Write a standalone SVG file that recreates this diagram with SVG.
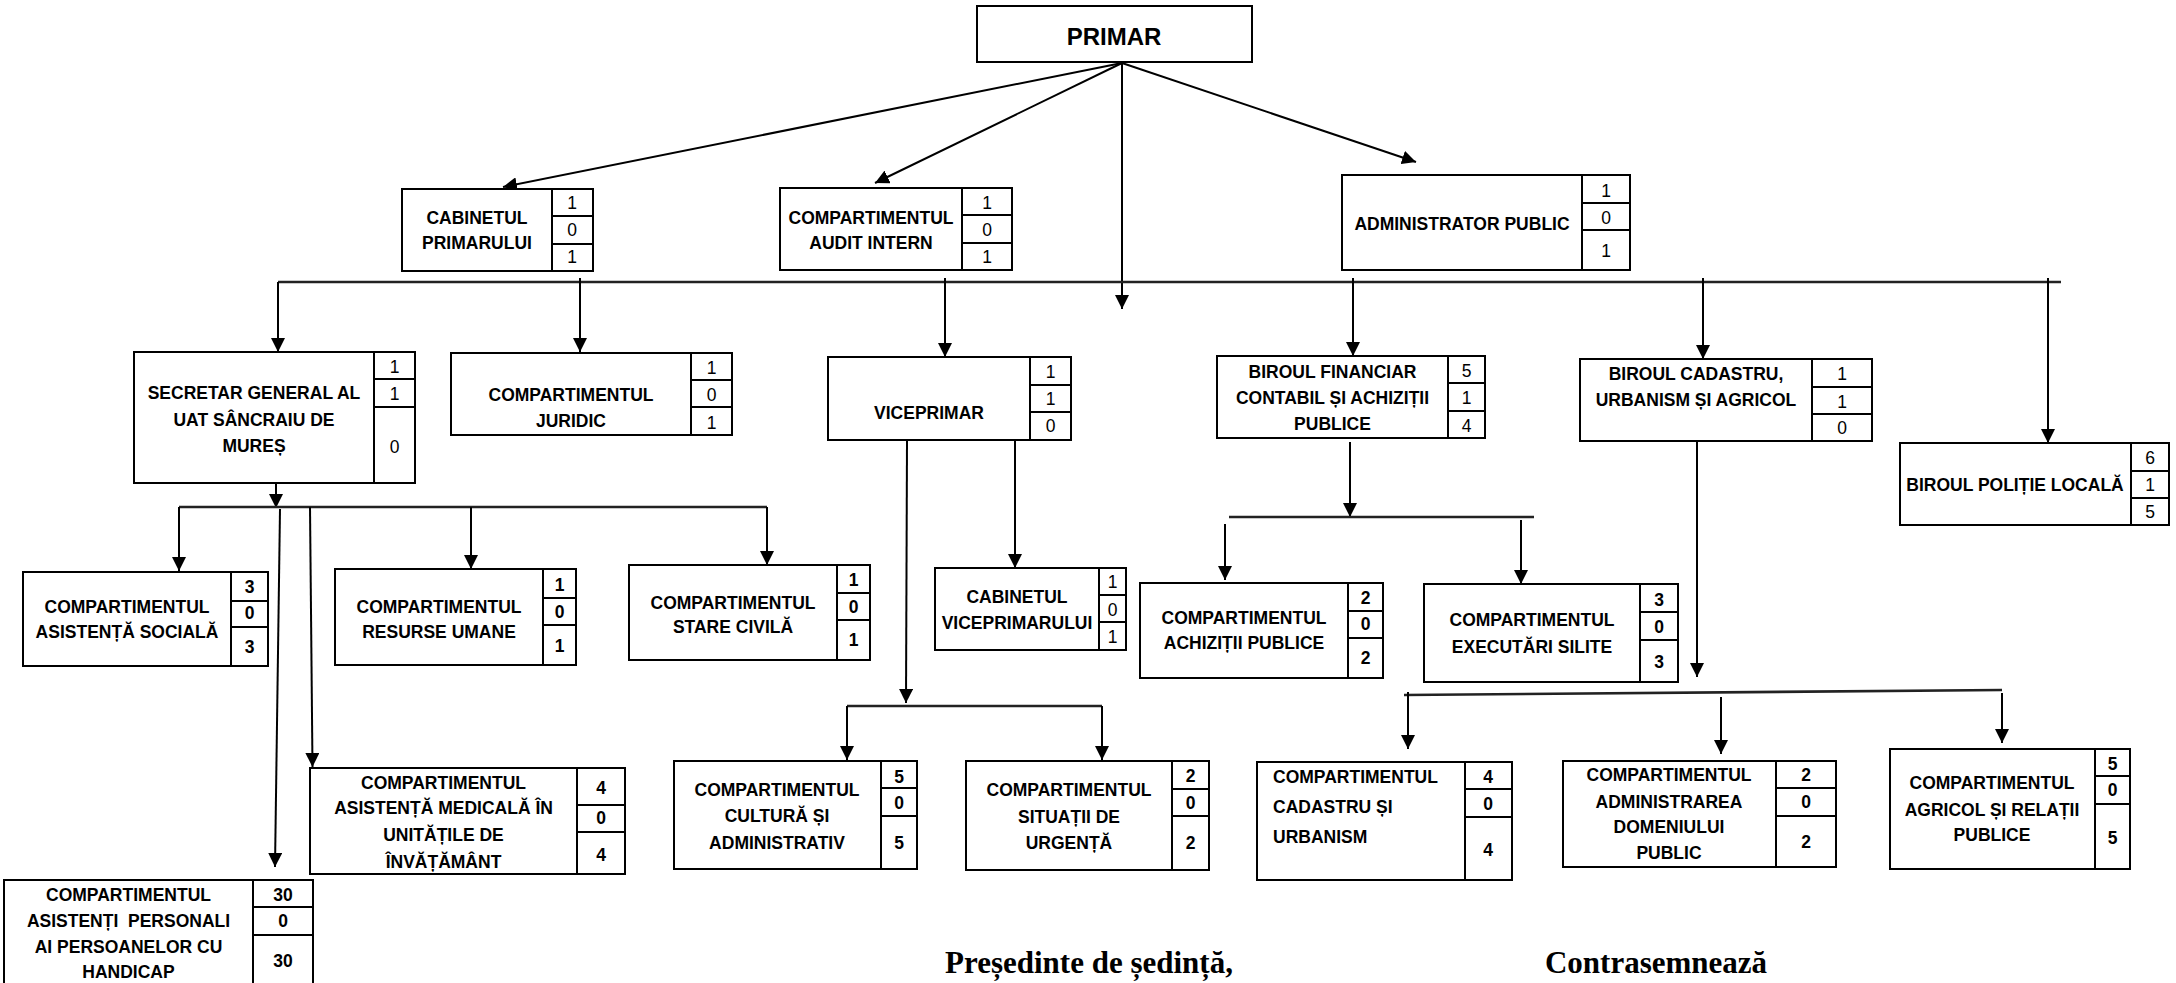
<svg xmlns="http://www.w3.org/2000/svg" width="2176" height="983" viewBox="0 0 2176 983">
<defs>
<marker id="ah" viewBox="0 0 14 14" refX="14" refY="7" markerWidth="14" markerHeight="14" markerUnits="userSpaceOnUse" orient="auto">
<path d="M0,0 L14,7 L0,14 Z" fill="#000"/>
</marker>
<style>
.box{fill:#fff;stroke:#000;stroke-width:2}
.ln{stroke:#000;stroke-width:2;fill:none}
.lbl{font-family:"Liberation Sans",Arial,sans-serif;font-weight:bold;font-size:17.5px;text-anchor:middle;fill:#000}
.lbll{font-family:"Liberation Sans",Arial,sans-serif;font-weight:bold;font-size:17.5px;text-anchor:start;fill:#000}
.num{font-family:"Liberation Sans",Arial,sans-serif;font-size:17.5px;text-anchor:middle;fill:#000}
.numb{font-family:"Liberation Sans",Arial,sans-serif;font-size:17.5px;font-weight:bold;text-anchor:middle;fill:#000}
.title{font-family:"Liberation Sans",Arial,sans-serif;font-weight:bold;font-size:24px;text-anchor:middle;fill:#000}
.sig{font-family:"Liberation Serif","Times New Roman",serif;font-weight:bold;font-size:31px;text-anchor:middle;fill:#000}
.arr{stroke:#000;stroke-width:2;fill:none;marker-end:url(#ah)}
.bus{stroke:#222;stroke-width:2.6;fill:none}
</style>
</defs>

<g id="connectors">
<line class="arr" x1="1122" y1="63" x2="503" y2="187"/>
<line class="arr" x1="1122" y1="63" x2="875" y2="183"/>
<line class="arr" x1="1122" y1="63" x2="1416" y2="162"/>
<line class="arr" x1="1122" y1="63" x2="1122" y2="309"/>
<line class="bus" x1="278" y1="282" x2="2061" y2="282"/>
<line class="arr" x1="278" y1="282" x2="278" y2="352"/>
<line class="arr" x1="580" y1="278" x2="580" y2="352"/>
<line class="arr" x1="945" y1="278" x2="945" y2="357"/>
<line class="arr" x1="1353" y1="278" x2="1353" y2="356"/>
<line class="arr" x1="1703" y1="278" x2="1703" y2="359"/>
<line class="arr" x1="2048" y1="278" x2="2048" y2="443"/>
<!-- secretar -->
<line class="arr" x1="276" y1="476" x2="276" y2="508"/>
<polyline class="bus" points="179,507 767,507"/>
<line class="arr" x1="179" y1="507" x2="179" y2="571"/>
<line class="arr" x1="280" y1="509" x2="275" y2="867"/>
<line class="arr" x1="310" y1="507" x2="312.5" y2="767"/>
<line class="arr" x1="471" y1="507" x2="471" y2="569"/>
<line class="arr" x1="767" y1="507" x2="767" y2="565"/>
<!-- viceprimar -->
<line class="arr" x1="907" y1="441" x2="906" y2="703"/>
<line class="bus" x1="847" y1="706" x2="1102" y2="706"/>
<line class="arr" x1="847" y1="706" x2="847" y2="760"/>
<line class="arr" x1="1102" y1="706" x2="1102" y2="760"/>
<line class="arr" x1="1015" y1="441" x2="1015" y2="568"/>
<!-- financiar -->
<line class="arr" x1="1350" y1="442" x2="1350" y2="517"/>
<line class="bus" x1="1229" y1="517" x2="1534" y2="517"/>
<line class="arr" x1="1225" y1="524" x2="1225" y2="580"/>
<line class="arr" x1="1521" y1="520" x2="1521" y2="584"/>
<!-- birou cadastru -->
<line class="arr" x1="1697" y1="423" x2="1697" y2="677"/>
<line class="bus" x1="1404" y1="695" x2="2002" y2="690"/>
<line class="arr" x1="1408" y1="692" x2="1408" y2="749"/>
<line class="arr" x1="1721" y1="697" x2="1721" y2="754"/>
<line class="arr" x1="2002" y1="693" x2="2002" y2="743"/>
</g>

<g id="primar">
<rect class="box" x="977" y="6" width="275" height="56"/>
<text class="title" x="1114" y="45">PRIMAR</text>
</g>

<g id="cabinetul-primarului">
<rect class="box" x="402" y="189" width="191" height="82"/>
<line class="ln" x1="552" y1="189" x2="552" y2="271"/>
<line class="ln" x1="552" y1="216" x2="593" y2="216"/>
<line class="ln" x1="552" y1="244" x2="593" y2="244"/>
<text class="lbl" x="477" y="224">CABINETUL</text>
<text class="lbl" x="477" y="249">PRIMARULUI</text>
<text class="num" x="572" y="209">1</text>
<text class="num" x="572" y="236">0</text>
<text class="num" x="572" y="263">1</text>
</g>

<g id="audit-intern">
<rect class="box" x="780" y="188" width="232" height="82"/>
<line class="ln" x1="962" y1="188" x2="962" y2="270"/>
<line class="ln" x1="962" y1="215" x2="1012" y2="215"/>
<line class="ln" x1="962" y1="243" x2="1012" y2="243"/>
<text class="lbl" x="871" y="224">COMPARTIMENTUL</text>
<text class="lbl" x="871" y="249">AUDIT INTERN</text>
<text class="num" x="987" y="209">1</text>
<text class="num" x="987" y="236">0</text>
<text class="num" x="987" y="263">1</text>
</g>

<g id="administrator-public">
<rect class="box" x="1342" y="175" width="288" height="95"/>
<line class="ln" x1="1582" y1="175" x2="1582" y2="270"/>
<line class="ln" x1="1582" y1="203" x2="1630" y2="203"/>
<line class="ln" x1="1582" y1="230" x2="1630" y2="230"/>
<text class="lbl" x="1462" y="230">ADMINISTRATOR PUBLIC</text>
<text class="num" x="1606" y="197">1</text>
<text class="num" x="1606" y="224">0</text>
<text class="num" x="1606" y="257">1</text>
</g>

<g id="secretar-general">
<rect class="box" x="134" y="352" width="281" height="131"/>
<line class="ln" x1="374" y1="352" x2="374" y2="483"/>
<line class="ln" x1="374" y1="379" x2="415" y2="379"/>
<line class="ln" x1="374" y1="407" x2="415" y2="407"/>
<text class="lbl" x="254" y="399">SECRETAR GENERAL AL</text>
<text class="lbl" x="254" y="426">UAT SÂNCRAIU DE</text>
<text class="lbl" x="254" y="452">MUREȘ</text>
<text class="num" x="394.5" y="373">1</text>
<text class="num" x="394.5" y="400">1</text>
<text class="num" x="394.5" y="453">0</text>
</g>

<g id="juridic">
<rect class="box" x="451" y="353" width="281" height="82"/>
<line class="ln" x1="691" y1="353" x2="691" y2="435"/>
<line class="ln" x1="691" y1="380" x2="732" y2="380"/>
<line class="ln" x1="691" y1="407" x2="732" y2="407"/>
<text class="lbl" x="571" y="401">COMPARTIMENTUL</text>
<text class="lbl" x="571" y="427">JURIDIC</text>
<text class="num" x="711.5" y="374">1</text>
<text class="num" x="711.5" y="401">0</text>
<text class="num" x="711.5" y="429">1</text>
</g>

<g id="viceprimar">
<rect class="box" x="828" y="357" width="243" height="83"/>
<line class="ln" x1="1030" y1="357" x2="1030" y2="440"/>
<line class="ln" x1="1030" y1="385" x2="1071" y2="385"/>
<line class="ln" x1="1030" y1="412" x2="1071" y2="412"/>
<text class="lbl" x="929" y="419">VICEPRIMAR</text>
<text class="num" x="1050.5" y="378">1</text>
<text class="num" x="1050.5" y="405">1</text>
<text class="num" x="1050.5" y="432">0</text>
</g>

<g id="biroul-financiar">
<rect class="box" x="1217" y="356" width="268" height="82"/>
<line class="ln" x1="1448" y1="356" x2="1448" y2="438"/>
<line class="ln" x1="1448" y1="383" x2="1485" y2="383"/>
<line class="ln" x1="1448" y1="411" x2="1485" y2="411"/>
<text class="lbl" x="1332.5" y="378">BIROUL FINANCIAR</text>
<text class="lbl" x="1332.5" y="404">CONTABIL ȘI ACHIZIȚII</text>
<text class="lbl" x="1332.5" y="430">PUBLICE</text>
<text class="num" x="1466.5" y="377">5</text>
<text class="num" x="1466.5" y="404">1</text>
<text class="num" x="1466.5" y="432">4</text>
</g>

<g id="biroul-cadastru">
<rect class="box" x="1580" y="359" width="292" height="82"/>
<line class="ln" x1="1812" y1="359" x2="1812" y2="441"/>
<line class="ln" x1="1812" y1="387" x2="1872" y2="387"/>
<line class="ln" x1="1812" y1="414" x2="1872" y2="414"/>
<text class="lbl" x="1696" y="380">BIROUL CADASTRU,</text>
<text class="lbl" x="1696" y="406">URBANISM ȘI AGRICOL</text>
<text class="num" x="1842" y="380">1</text>
<text class="num" x="1842" y="408">1</text>
<text class="num" x="1842" y="434">0</text>
</g>

<g id="biroul-politie-locala">
<rect class="box" x="1900" y="443" width="269" height="82"/>
<line class="ln" x1="2131" y1="443" x2="2131" y2="525"/>
<line class="ln" x1="2131" y1="471" x2="2169" y2="471"/>
<line class="ln" x1="2131" y1="498" x2="2169" y2="498"/>
<text class="lbl" x="2015" y="491">BIROUL POLIȚIE LOCALĂ</text>
<text class="num" x="2150" y="464">6</text>
<text class="num" x="2150" y="491">1</text>
<text class="num" x="2150" y="518">5</text>
</g>

<g id="asistenta-sociala">
<rect class="box" x="23" y="572" width="245" height="94"/>
<line class="ln" x1="231" y1="572" x2="231" y2="666"/>
<line class="ln" x1="231" y1="601" x2="268" y2="601"/>
<line class="ln" x1="231" y1="627" x2="268" y2="627"/>
<text class="lbl" x="127" y="613">COMPARTIMENTUL</text>
<text class="lbl" x="127" y="638">ASISTENȚĂ SOCIALĂ</text>
<text class="numb" x="249.5" y="593">3</text>
<text class="numb" x="249.5" y="619">0</text>
<text class="numb" x="249.5" y="653">3</text>
</g>

<g id="resurse-umane">
<rect class="box" x="335" y="569" width="241" height="96"/>
<line class="ln" x1="543" y1="569" x2="543" y2="665"/>
<line class="ln" x1="543" y1="598" x2="576" y2="598"/>
<line class="ln" x1="543" y1="625" x2="576" y2="625"/>
<text class="lbl" x="439" y="613">COMPARTIMENTUL</text>
<text class="lbl" x="439" y="638">RESURSE UMANE</text>
<text class="numb" x="559.5" y="591">1</text>
<text class="numb" x="559.5" y="618">0</text>
<text class="numb" x="559.5" y="652">1</text>
</g>

<g id="stare-civila">
<rect class="box" x="629" y="565" width="241" height="95"/>
<line class="ln" x1="837" y1="565" x2="837" y2="660"/>
<line class="ln" x1="837" y1="593" x2="870" y2="593"/>
<line class="ln" x1="837" y1="620" x2="870" y2="620"/>
<text class="lbl" x="733" y="609">COMPARTIMENTUL</text>
<text class="lbl" x="733" y="633">STARE CIVILĂ</text>
<text class="numb" x="853.5" y="586">1</text>
<text class="numb" x="853.5" y="613">0</text>
<text class="numb" x="853.5" y="646">1</text>
</g>

<g id="cabinetul-viceprimarului">
<rect class="box" x="935" y="568" width="191" height="82"/>
<line class="ln" x1="1099" y1="568" x2="1099" y2="650"/>
<line class="ln" x1="1099" y1="595" x2="1126" y2="595"/>
<line class="ln" x1="1099" y1="622" x2="1126" y2="622"/>
<text class="lbl" x="1017" y="603">CABINETUL</text>
<text class="lbl" x="1017" y="629">VICEPRIMARULUI</text>
<text class="num" x="1112.5" y="588">1</text>
<text class="num" x="1112.5" y="616">0</text>
<text class="num" x="1112.5" y="643">1</text>
</g>

<g id="achizitii-publice">
<rect class="box" x="1140" y="583" width="243" height="95"/>
<line class="ln" x1="1348" y1="583" x2="1348" y2="678"/>
<line class="ln" x1="1348" y1="611" x2="1383" y2="611"/>
<line class="ln" x1="1348" y1="638" x2="1383" y2="638"/>
<text class="lbl" x="1244" y="624">COMPARTIMENTUL</text>
<text class="lbl" x="1244" y="649">ACHIZIȚII PUBLICE</text>
<text class="numb" x="1365.5" y="604">2</text>
<text class="numb" x="1365.5" y="630">0</text>
<text class="numb" x="1365.5" y="664">2</text>
</g>

<g id="executari-silite">
<rect class="box" x="1424" y="584" width="254" height="98"/>
<line class="ln" x1="1640" y1="584" x2="1640" y2="682"/>
<line class="ln" x1="1640" y1="612" x2="1678" y2="612"/>
<line class="ln" x1="1640" y1="640" x2="1678" y2="640"/>
<text class="lbl" x="1532" y="626">COMPARTIMENTUL</text>
<text class="lbl" x="1532" y="653">EXECUTĂRI SILITE</text>
<text class="numb" x="1659" y="606">3</text>
<text class="numb" x="1659" y="633">0</text>
<text class="numb" x="1659" y="668">3</text>
</g>

<g id="asistenta-medicala">
<rect class="box" x="310" y="768" width="315" height="106"/>
<line class="ln" x1="577" y1="768" x2="577" y2="874"/>
<line class="ln" x1="577" y1="805" x2="625" y2="805"/>
<line class="ln" x1="577" y1="832" x2="625" y2="832"/>
<text class="lbl" x="443.5" y="789">COMPARTIMENTUL</text>
<text class="lbl" x="443.5" y="814">ASISTENȚĂ MEDICALĂ ÎN</text>
<text class="lbl" x="443.5" y="841">UNITĂȚILE DE</text>
<text class="lbl" x="443.5" y="868">ÎNVĂȚĂMÂNT</text>
<text class="numb" x="601" y="794">4</text>
<text class="numb" x="601" y="824">0</text>
<text class="numb" x="601" y="861">4</text>
</g>

<g id="asistenti-personali">
<rect class="box" x="4" y="880" width="309" height="115"/>
<line class="ln" x1="253" y1="880" x2="253" y2="995"/>
<line class="ln" x1="253" y1="907" x2="313" y2="907"/>
<line class="ln" x1="253" y1="935" x2="313" y2="935"/>
<text class="lbl" x="128.5" y="901">COMPARTIMENTUL</text>
<text class="lbl" x="128.5" y="927" xml:space="preserve">ASISTENȚI  PERSONALI</text>
<text class="lbl" x="128.5" y="953">AI PERSOANELOR CU</text>
<text class="lbl" x="128.5" y="978">HANDICAP</text>
<text class="numb" x="283" y="901">30</text>
<text class="numb" x="283" y="927">0</text>
<text class="numb" x="283" y="967">30</text>
</g>

<g id="cultura-administrativ">
<rect class="box" x="674" y="761" width="243" height="108"/>
<line class="ln" x1="881" y1="761" x2="881" y2="869"/>
<line class="ln" x1="881" y1="788" x2="917" y2="788"/>
<line class="ln" x1="881" y1="816" x2="917" y2="816"/>
<text class="lbl" x="777" y="796">COMPARTIMENTUL</text>
<text class="lbl" x="777" y="822">CULTURĂ ȘI</text>
<text class="lbl" x="777" y="849">ADMINISTRATIV</text>
<text class="numb" x="899" y="783">5</text>
<text class="numb" x="899" y="809">0</text>
<text class="numb" x="899" y="849">5</text>
</g>

<g id="situatii-urgenta">
<rect class="box" x="966" y="761" width="243" height="109"/>
<line class="ln" x1="1172" y1="761" x2="1172" y2="870"/>
<line class="ln" x1="1172" y1="789" x2="1209" y2="789"/>
<line class="ln" x1="1172" y1="816" x2="1209" y2="816"/>
<text class="lbl" x="1069" y="796">COMPARTIMENTUL</text>
<text class="lbl" x="1069" y="823">SITUAȚII DE</text>
<text class="lbl" x="1069" y="849">URGENȚĂ</text>
<text class="numb" x="1190.5" y="782">2</text>
<text class="numb" x="1190.5" y="809">0</text>
<text class="numb" x="1190.5" y="849">2</text>
</g>

<g id="cadastru-urbanism">
<rect class="box" x="1257" y="762" width="255" height="118"/>
<line class="ln" x1="1465" y1="762" x2="1465" y2="880"/>
<line class="ln" x1="1465" y1="789" x2="1512" y2="789"/>
<line class="ln" x1="1465" y1="817" x2="1512" y2="817"/>
<text class="lbll" x="1273" y="783">COMPARTIMENTUL</text>
<text class="lbll" x="1273" y="813">CADASTRU ȘI</text>
<text class="lbll" x="1273" y="843">URBANISM</text>
<text class="numb" x="1488" y="783">4</text>
<text class="numb" x="1488" y="810">0</text>
<text class="numb" x="1488" y="856">4</text>
</g>

<g id="administrarea-domeniului">
<rect class="box" x="1563" y="761" width="273" height="106"/>
<line class="ln" x1="1776" y1="761" x2="1776" y2="867"/>
<line class="ln" x1="1776" y1="788" x2="1836" y2="788"/>
<line class="ln" x1="1776" y1="816" x2="1836" y2="816"/>
<text class="lbl" x="1669" y="781">COMPARTIMENTUL</text>
<text class="lbl" x="1669" y="808">ADMINISTRAREA</text>
<text class="lbl" x="1669" y="833">DOMENIULUI</text>
<text class="lbl" x="1669" y="859">PUBLIC</text>
<text class="numb" x="1806" y="781">2</text>
<text class="numb" x="1806" y="808">0</text>
<text class="numb" x="1806" y="848">2</text>
</g>

<g id="agricol-relatii">
<rect class="box" x="1890" y="749" width="240" height="120"/>
<line class="ln" x1="2095" y1="749" x2="2095" y2="869"/>
<line class="ln" x1="2095" y1="776" x2="2130" y2="776"/>
<line class="ln" x1="2095" y1="804" x2="2130" y2="804"/>
<text class="lbl" x="1992" y="789">COMPARTIMENTUL</text>
<text class="lbl" x="1992" y="816">AGRICOL ȘI RELAȚII</text>
<text class="lbl" x="1992" y="841">PUBLICE</text>
<text class="numb" x="2112.5" y="770">5</text>
<text class="numb" x="2112.5" y="796">0</text>
<text class="numb" x="2112.5" y="844">5</text>
</g>

<g id="signatures">
<text class="sig" x="1089" y="973">Președinte de ședință,</text>
<text class="sig" x="1656" y="973">Contrasemnează</text>
</g>
</svg>
